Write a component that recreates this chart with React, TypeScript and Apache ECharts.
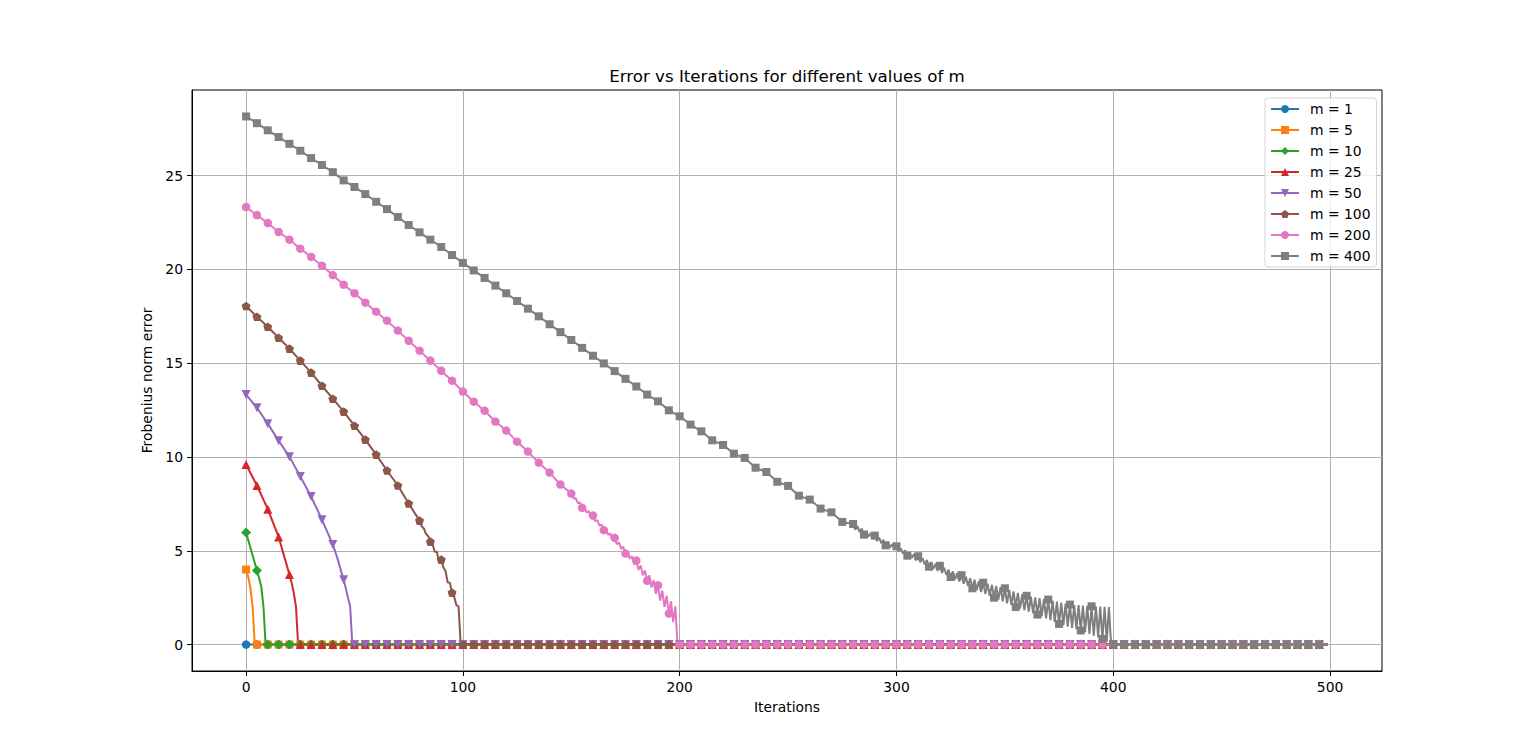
import React, { useEffect, useRef } from 'react';
import * as echarts from 'echarts';

// ---------------- data ----------------
const SERIES_NAMES = ['m = 1', 'm = 5', 'm = 10', 'm = 25', 'm = 50', 'm = 100', 'm = 200', 'm = 400'];
const COLORS = ['#1f77b4', '#ff7f0e', '#2ca02c', '#d62728', '#9467bd', '#8c564b', '#e377c2', '#7f7f7f'];
const X_TICKS = [0, 100, 200, 300, 400, 500];
const Y_TICKS = [0, 5, 10, 15, 20, 25];
const MARK_STEP = 5; // a marker every 5 iterations
const LAST_ITER = 499;

// values at iterations 0, 5, 10, ..., 495 (100 values each)
const m1Marks = [
  0, 0, 0, 0, 0, 0, 0, 0, 0, 0, 0, 0, 0, 0, 0, 0, 0, 0, 0, 0,
  0, 0, 0, 0, 0, 0, 0, 0, 0, 0, 0, 0, 0, 0, 0, 0, 0, 0, 0, 0,
  0, 0, 0, 0, 0, 0, 0, 0, 0, 0, 0, 0, 0, 0, 0, 0, 0, 0, 0, 0,
  0, 0, 0, 0, 0, 0, 0, 0, 0, 0, 0, 0, 0, 0, 0, 0, 0, 0, 0, 0,
  0, 0, 0, 0, 0, 0, 0, 0, 0, 0, 0, 0, 0, 0, 0, 0, 0, 0, 0, 0,
];
const m5Marks = [
  4.0, 0, 0, 0, 0, 0, 0, 0, 0, 0, 0, 0, 0, 0, 0, 0, 0, 0, 0, 0,
  0, 0, 0, 0, 0, 0, 0, 0, 0, 0, 0, 0, 0, 0, 0, 0, 0, 0, 0, 0,
  0, 0, 0, 0, 0, 0, 0, 0, 0, 0, 0, 0, 0, 0, 0, 0, 0, 0, 0, 0,
  0, 0, 0, 0, 0, 0, 0, 0, 0, 0, 0, 0, 0, 0, 0, 0, 0, 0, 0, 0,
  0, 0, 0, 0, 0, 0, 0, 0, 0, 0, 0, 0, 0, 0, 0, 0, 0, 0, 0, 0,
];
const m10Marks = [
  5.97, 3.95, 0, 0, 0, 0, 0, 0, 0, 0, 0, 0, 0, 0, 0, 0, 0, 0, 0, 0,
  0, 0, 0, 0, 0, 0, 0, 0, 0, 0, 0, 0, 0, 0, 0, 0, 0, 0, 0, 0,
  0, 0, 0, 0, 0, 0, 0, 0, 0, 0, 0, 0, 0, 0, 0, 0, 0, 0, 0, 0,
  0, 0, 0, 0, 0, 0, 0, 0, 0, 0, 0, 0, 0, 0, 0, 0, 0, 0, 0, 0,
  0, 0, 0, 0, 0, 0, 0, 0, 0, 0, 0, 0, 0, 0, 0, 0, 0, 0, 0, 0,
];
const m25Marks = [
  9.6, 8.48, 7.22, 5.74, 3.73, 0, 0, 0, 0, 0, 0, 0, 0, 0, 0, 0, 0, 0, 0, 0,
  0, 0, 0, 0, 0, 0, 0, 0, 0, 0, 0, 0, 0, 0, 0, 0, 0, 0, 0, 0,
  0, 0, 0, 0, 0, 0, 0, 0, 0, 0, 0, 0, 0, 0, 0, 0, 0, 0, 0, 0,
  0, 0, 0, 0, 0, 0, 0, 0, 0, 0, 0, 0, 0, 0, 0, 0, 0, 0, 0, 0,
  0, 0, 0, 0, 0, 0, 0, 0, 0, 0, 0, 0, 0, 0, 0, 0, 0, 0, 0, 0,
];
const m50Marks = [
  13.33, 12.63, 11.78, 10.87, 10.02, 8.96, 7.89, 6.66, 5.33, 3.46, 0, 0, 0, 0, 0, 0, 0, 0, 0, 0,
  0, 0, 0, 0, 0, 0, 0, 0, 0, 0, 0, 0, 0, 0, 0, 0, 0, 0, 0, 0,
  0, 0, 0, 0, 0, 0, 0, 0, 0, 0, 0, 0, 0, 0, 0, 0, 0, 0, 0, 0,
  0, 0, 0, 0, 0, 0, 0, 0, 0, 0, 0, 0, 0, 0, 0, 0, 0, 0, 0, 0,
  0, 0, 0, 0, 0, 0, 0, 0, 0, 0, 0, 0, 0, 0, 0, 0, 0, 0, 0, 0,
];
const m100Marks = [
  18.05, 17.48, 16.95, 16.36, 15.78, 15.14, 14.5, 13.8, 13.11, 12.42,
  11.67, 10.93, 10.13, 9.28, 8.48, 7.52, 6.61, 5.49, 4.53, 2.77,
  0, 0, 0, 0, 0, 0, 0, 0, 0, 0, 0, 0, 0, 0, 0, 0, 0, 0, 0, 0,
  0, 0, 0, 0, 0, 0, 0, 0, 0, 0, 0, 0, 0, 0, 0, 0, 0, 0, 0, 0,
  0, 0, 0, 0, 0, 0, 0, 0, 0, 0, 0, 0, 0, 0, 0, 0, 0, 0, 0, 0,
];
const m200Marks = [
  23.33, 22.9, 22.48, 22.0, 21.59, 21.11, 20.67, 20.2, 19.7, 19.19,
  18.73, 18.23, 17.75, 17.27, 16.74, 16.2, 15.67, 15.14, 14.6, 14.07,
  13.49, 12.95, 12.47, 11.89, 11.41, 10.82, 10.29, 9.7, 9.17, 8.53,
  8.05, 7.29, 6.88, 6.1, 5.69, 4.85, 4.48, 3.4, 3.16, 1.65,
  0, 0, 0, 0, 0, 0, 0, 0, 0, 0, 0, 0, 0, 0, 0, 0, 0, 0, 0, 0,
  0, 0, 0, 0, 0, 0, 0, 0, 0, 0, 0, 0, 0, 0, 0, 0, 0, 0, 0, 0,
  0, 0, 0, 0, 0, 0, 0, 0, 0, 0, 0, 0, 0, 0, 0, 0, 0, 0, 0, 0,
];
const m400Marks = [
  28.16, 27.8, 27.42, 27.06, 26.7, 26.33, 25.94, 25.57, 25.19, 24.75,
  24.4, 24.02, 23.61, 23.22, 22.8, 22.37, 21.98, 21.59, 21.2, 20.77,
  20.35, 19.95, 19.55, 19.14, 18.73, 18.32, 17.91, 17.5, 17.08, 16.66,
  16.24, 15.82, 15.4, 14.99, 14.58, 14.17, 13.76, 13.33, 12.97, 12.49,
  12.17, 11.73, 11.37, 10.89, 10.64, 10.18, 9.95, 9.43, 9.2, 8.68,
  8.46, 7.94, 7.73, 7.25, 7.05, 6.54, 6.43, 5.86, 5.81, 5.29,
  5.24, 4.74, 4.71, 4.15, 4.2, 3.6, 3.7, 3.0, 3.3, 2.5,
  3.0, 2.0, 2.6, 1.6, 2.4, 1.1, 2.13, 0.75, 2.04, 0.3,
  0, 0, 0, 0, 0, 0, 0, 0, 0, 0, 0, 0, 0, 0, 0, 0, 0, 0, 0, 0,
];

// per-iteration values where the curve bends or oscillates between markers
const m5FineStart = 0;
const m5Fine = [4.0, 3.6, 3.0, 2.04, 0];
const m10FineStart = 5;
const m10Fine = [3.95, 3.55, 3.1, 2.04, 0];
const m25FineStart = 20;
const m25Fine = [3.73, 3.3, 2.75, 2.04, 0];
const m50FineStart = 40;
const m50Fine = [5.33, 5.0, 4.65, 4.25, 3.85, 3.46, 3.0, 2.5, 2.04, 0];
const m100FineStart = 80;
const m100Fine = [
  6.61, 6.3, 6.19, 5.89, 5.78, 5.49, 5.36, 4.95, 4.95, 4.4,
  4.53, 4.13, 3.91, 3.31, 3.29, 2.77, 2.55, 2.1, 2.04, 0,
];
const m200FineStart = 150;
const m200Fine = [
  8.05, 7.79, 7.82, 7.54, 7.58, 7.29, 7.35, 7.05, 7.11, 6.81,
  6.88, 6.58, 6.64, 6.34, 6.4, 6.1, 6.17, 5.85, 5.93, 5.6,
  5.69, 5.35, 5.45, 5.1, 5.21, 4.85, 4.96, 4.56, 4.72, 4.27,
  4.48, 3.98, 4.22, 3.69, 3.95, 3.4, 3.69, 3.05, 3.42, 2.7,
  3.16, 2.35, 2.88, 2.0, 2.6, 1.65, 2.32, 1.2, 2.04, 0,
];
const m400FineStart = 280;
const m400Fine = [
  6.43, 6.13, 6.31, 6.0, 6.18, 5.86, 6.06, 5.75, 5.94, 5.63,
  5.81, 5.52, 5.7, 5.41, 5.58, 5.29, 5.47, 5.18, 5.35, 5.07,
  5.24, 4.96, 5.13, 4.85, 5.03, 4.74, 4.92, 4.62, 4.82, 4.5,
  4.71, 4.39, 4.61, 4.27, 4.51, 4.15, 4.4, 4.04, 4.3, 3.93,
  4.2, 3.82, 4.1, 3.71, 4.0, 3.6, 3.9, 3.48, 3.8, 3.36,
  3.7, 3.24, 3.62, 3.12, 3.54, 3.0, 3.46, 2.9, 3.38, 2.8,
  3.3, 2.7, 3.24, 2.6, 3.18, 2.5, 3.12, 2.4, 3.06, 2.3,
  3.0, 2.2, 2.92, 2.1, 2.84, 2.0, 2.76, 1.92, 2.68, 1.84,
  2.6, 1.76, 2.56, 1.68, 2.52, 1.6, 2.48, 1.5, 2.44, 1.4,
  2.4, 1.3, 2.35, 1.2, 2.29, 1.1, 2.24, 1.03, 2.18, 0.96,
  2.13, 0.89, 2.11, 0.82, 2.1, 0.75, 2.08, 0.66, 2.06, 0.57,
  2.04, 0.48, 2.03, 0.39, 2.02, 0.3, 2.01, 0.15, 2.0, 0,
];
// value at the last iteration (499) for each series
const END_VALUES = [0, 0, 0, 0, 0, 0, 0, 0];

const ALL_MARKS = [m1Marks, m5Marks, m10Marks, m25Marks, m50Marks, m100Marks, m200Marks, m400Marks];
const ALL_FINE: [number, number[]][] = [
  [0, []],
  [m5FineStart, m5Fine],
  [m10FineStart, m10Fine],
  [m25FineStart, m25Fine],
  [m50FineStart, m50Fine],
  [m100FineStart, m100Fine],
  [m200FineStart, m200Fine],
  [m400FineStart, m400Fine],
];

const PENTAGON = 'path://M0,-1L0.951,-0.309L0.588,0.809L-0.588,0.809L-0.951,-0.309Z';
const SYMBOLS: { symbol: string; size: number | number[]; rotate?: number }[] = [
  { symbol: 'circle', size: 8.5 },
  { symbol: 'rect', size: 8 },
  { symbol: 'diamond', size: 10 },
  { symbol: 'triangle', size: 9 },
  { symbol: 'triangle', size: 9, rotate: 180 },
  { symbol: PENTAGON, size: [9, 8.6] },
  { symbol: 'circle', size: 8.5 },
  { symbol: 'rect', size: 8 },
];

function buildData(marks: number[], fineStart: number, fine: number[], endValue: number) {
  const pts: any[] = [];
  marks.forEach((v, k) => pts.push({ value: [k * MARK_STEP, v] }));
  fine.forEach((v, j) => {
    const x = fineStart + j;
    if (x % MARK_STEP !== 0) pts.push({ value: [x, v], symbol: 'none' });
  });
  pts.push({ value: [LAST_ITER, endValue], symbol: 'none' });
  pts.sort((a, b) => a.value[0] - b.value[0]);
  return pts;
}

const FONT = 'DejaVu Sans';

export default function App() {
  const ref = useRef<HTMLDivElement>(null);
  useEffect(() => {
    document.body.style.margin = '0';
    const chart = echarts.init(ref.current!, null, { renderer: 'svg' });
    const series = SERIES_NAMES.map((name, i) => ({
      name,
      type: 'line',
      data: buildData(ALL_MARKS[i], ALL_FINE[i][0], ALL_FINE[i][1], END_VALUES[i]),
      symbol: SYMBOLS[i].symbol,
      symbolSize: SYMBOLS[i].size,
      symbolRotate: SYMBOLS[i].rotate ?? 0,
      showSymbol: true,
      color: COLORS[i],
      lineStyle: { width: 2, color: COLORS[i] },
      itemStyle: { color: COLORS[i] },
      silent: true,
      clip: false,
    }));
    chart.setOption({
      animation: false,
      backgroundColor: '#ffffff',
      textStyle: { fontFamily: FONT },
      title: {
        text: 'Error vs Iterations for different values of m',
        left: 787,
        textAlign: 'center',
        top: 68,
        padding: 0,
        textStyle: { fontFamily: FONT, fontSize: 16.67, fontWeight: 'normal', color: '#000' },
      },
      legend: {
        left: 1265,
        top: 98,
        orient: 'vertical',
        itemWidth: 28,
        itemHeight: 10,
        itemGap: 7,
        padding: [4, 6, 4, 5],
        backgroundColor: 'rgba(255,255,255,0.8)',
        borderColor: 'rgba(204,204,204,0.8)',
        borderWidth: 1,
        borderRadius: 3,
        textStyle: { fontFamily: FONT, fontSize: 13.9, color: '#000', padding: [0, 0, 0, 6] },
        data: SERIES_NAMES,
      },
      grid: {
        left: 192,
        top: 90,
        width: 1190,
        height: 581,
        show: true,
        borderColor: '#000',
        borderWidth: 1,
        backgroundColor: 'transparent',
      },
      xAxis: {
        type: 'value',
        min: -24.95,
        max: 523.95,
        name: 'Iterations',
        nameLocation: 'middle',
        nameGap: 29,
        nameTextStyle: { fontFamily: FONT, fontSize: 13.9, color: '#000', verticalAlign: 'top' },
        axisLine: { show: true, onZero: false, lineStyle: { color: '#000', width: 1 } },
        axisTick: { show: true, length: 5, lineStyle: { color: '#000', width: 1 }, customValues: X_TICKS },
        axisLabel: { margin: 9, fontFamily: FONT, fontSize: 13.9, color: '#000', customValues: X_TICKS },
        splitLine: { show: true, lineStyle: { color: '#b0b0b0', width: 1 } },
      },
      yAxis: {
        type: 'value',
        min: -1.41,
        max: 29.57,
        name: 'Frobenius norm error',
        nameLocation: 'middle',
        nameGap: 31,
        nameRotate: 90,
        nameTextStyle: { fontFamily: FONT, fontSize: 13.9, color: '#000' },
        axisLine: { show: true, onZero: false, lineStyle: { color: '#000', width: 1 } },
        axisTick: { show: true, length: 5, lineStyle: { color: '#000', width: 1 }, customValues: Y_TICKS },
        axisLabel: { margin: 9, fontFamily: FONT, fontSize: 13.9, color: '#000', customValues: Y_TICKS },
        splitLine: { show: true, lineStyle: { color: '#b0b0b0', width: 1 } },
      },
      series,
    });
    return () => chart.dispose();
  }, []);
  return <div ref={ref} style={{ width: 1536, height: 754 }} />;
}
